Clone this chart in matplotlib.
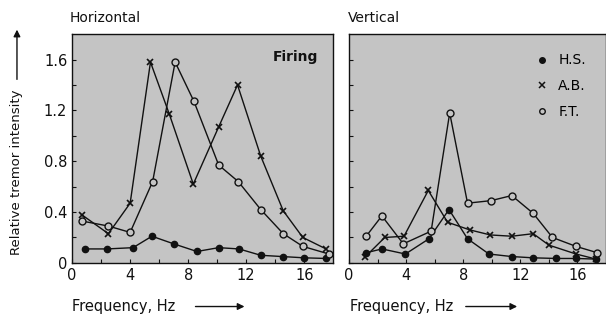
import numpy as np
import matplotlib.pyplot as plt
from matplotlib.lines import Line2D

# Horizontal tremor (Firing)
h_hs_f = [0.9, 2.4, 4.2, 5.5, 7.0, 8.6, 10.1, 11.5, 13.0, 14.5, 16.0, 17.5]
h_hs_v = [0.11, 0.11, 0.12, 0.21, 0.15, 0.09, 0.12, 0.11, 0.06, 0.05, 0.04, 0.035]
h_ab_f = [0.65, 2.5, 4.0, 5.4, 6.7, 8.35, 10.1, 11.4, 13.0, 14.55, 15.9, 17.5]
h_ab_v = [0.38, 0.23, 0.47, 1.58, 1.17, 0.62, 1.07, 1.40, 0.84, 0.41, 0.20, 0.11]
h_ft_f = [0.65, 2.5, 4.0, 5.55, 7.1, 8.4, 10.1, 11.45, 13.0, 14.55, 15.9, 17.7]
h_ft_v = [0.33, 0.29, 0.24, 0.64, 1.58, 1.27, 0.77, 0.64, 0.42, 0.23, 0.13, 0.07]

# Vertical tremor
v_hs_f = [1.2, 2.3, 3.95, 5.6, 7.0, 8.3, 9.8, 11.4, 12.9, 14.5, 15.9, 17.3]
v_hs_v = [0.08, 0.11, 0.07, 0.19, 0.42, 0.19, 0.07, 0.05, 0.04, 0.035, 0.035, 0.03]
v_ab_f = [1.15, 2.5, 3.85, 5.55, 6.9, 8.45, 9.9, 11.4, 12.9, 14.0, 15.9, 17.3]
v_ab_v = [0.05, 0.20, 0.21, 0.57, 0.32, 0.26, 0.22, 0.21, 0.23, 0.14, 0.07, 0.03]
v_ft_f = [1.2, 2.3, 3.8, 5.75, 7.05, 8.3, 9.95, 11.4, 12.9, 14.25, 15.9, 17.4]
v_ft_v = [0.21, 0.37, 0.15, 0.25, 1.18, 0.47, 0.49, 0.53, 0.39, 0.20, 0.13, 0.08]

bg = '#c4c4c4'
ink = '#111111'

plt.rcParams['font.family'] = 'DejaVu Sans'
fig = plt.figure(figsize=(6.06, 3.16), dpi=100)
ax1 = fig.add_axes([0.119, 0.168, 0.431, 0.724])
ax2 = fig.add_axes([0.576, 0.168, 0.424, 0.724])

def style(ax, labels):
    ax.set_facecolor(bg)
    ax.set_xlim(0, 18)
    ax.set_ylim(0, 1.8)
    ax.set_xticks(np.arange(0, 18, 2), minor=True)
    ax.set_xticks([0, 4, 8, 12, 16])
    ax.set_yticks(np.arange(0, 1.8, 0.2), minor=True)
    ax.set_yticks([0, 0.4, 0.8, 1.2, 1.6])
    ax.tick_params(which='both', direction='in', length=3, width=0.8, colors=ink,
                   labelsize=10.5, top=False, right=False)
    if labels:
        ax.set_yticklabels(['0', '0.4', '0.8', '1.2', '1.6'])
    else:
        ax.set_yticklabels([])
    for s in ax.spines.values():
        s.set_linewidth(1.0)
        s.set_color(ink)

def draw(ax, f1, v1, f2, v2, f3, v3):
    ax.plot(f1, v1, '-o', color=ink, lw=1.0, ms=4.5, mfc=ink, mec=ink)
    ax.plot(f2, v2, '-x', color=ink, lw=1.0, ms=5, mew=1.2)
    ax.plot(f3, v3, '-o', color=ink, lw=1.0, ms=5, mfc=bg, mec=ink, mew=1.0)

style(ax1, True)
style(ax2, False)
draw(ax1, h_hs_f, h_hs_v, h_ab_f, h_ab_v, h_ft_f, h_ft_v)
draw(ax2, v_hs_f, v_hs_v, v_ab_f, v_ab_v, v_ft_f, v_ft_v)

ax1.text(0.94, 0.93, 'Firing', transform=ax1.transAxes, ha='right', va='top',
         fontsize=10, fontweight='bold', color=ink)

handles = [Line2D([], [], ls='none', marker='o', ms=4, color=ink),
           Line2D([], [], ls='none', marker='x', ms=4, mew=1.1, color=ink),
           Line2D([], [], ls='none', marker='o', ms=4, mfc=bg, mec=ink)]
ax2.legend(handles, ['H.S.', 'A.B.', 'F.T.'], loc='upper right', frameon=False,
           fontsize=10, handletextpad=0.4, labelspacing=0.85, handlelength=1.6,
           bbox_to_anchor=(0.97, 0.97))

fig.text(0.115, 0.943, 'Horizontal', fontsize=10, ha='left', va='center', color=ink)
fig.text(0.574, 0.943, 'Vertical', fontsize=10, ha='left', va='center', color=ink)

# axis labels with arrows
fig.text(0.028, 0.455, 'Relative tremor intensity', rotation=90, fontsize=9.5,
         ha='center', va='center', color=ink)
fig.add_artist(plt.Annotation('', xy=(0.028, 0.915), xytext=(0.028, 0.74),
                              xycoords='figure fraction',
                              arrowprops=dict(arrowstyle='-|>', color=ink, lw=1.0,
                                              mutation_scale=10)))
for x0, x1a, x2a in [(0.119, 0.318, 0.408), (0.577, 0.764, 0.858)]:
    fig.text(x0, 0.03, 'Frequency, Hz', fontsize=10.5, ha='left', va='center', color=ink)
    fig.add_artist(plt.Annotation('', xy=(x2a, 0.03), xytext=(x1a, 0.03),
                                  xycoords='figure fraction',
                                  arrowprops=dict(arrowstyle='-|>', color=ink, lw=1.0,
                                                  mutation_scale=10)))

fig.savefig('out.png', dpi=100)
